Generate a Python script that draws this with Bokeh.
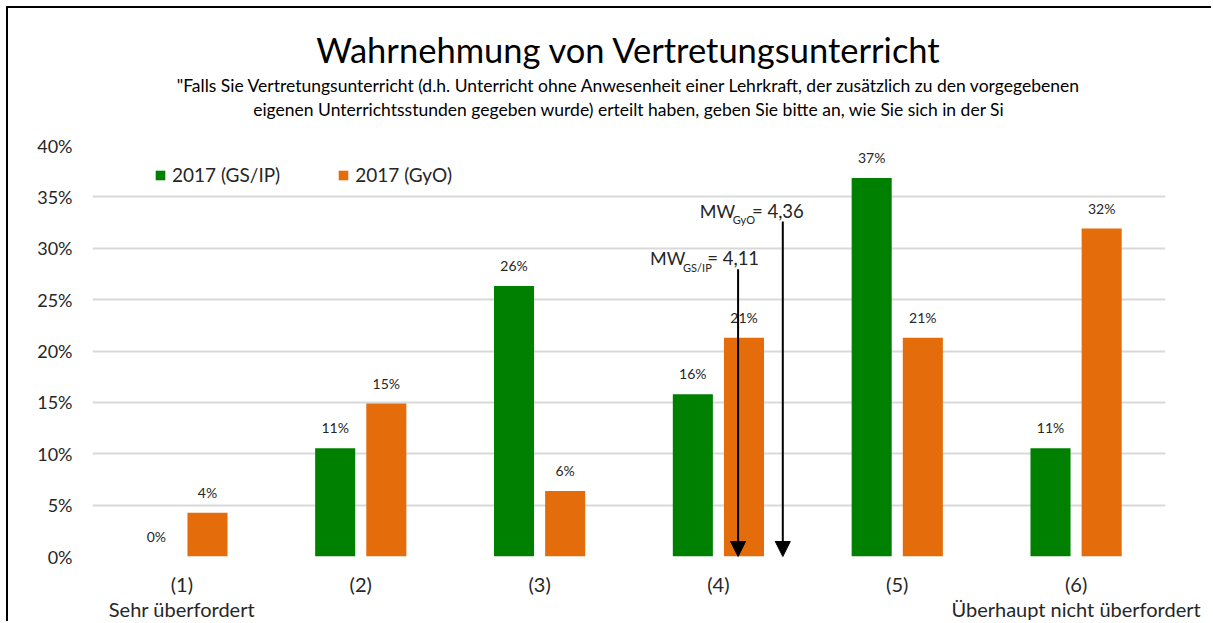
from bokeh.plotting import figure
from bokeh.models import (Range1d, LinearAxis, FixedTicker, Legend, LegendItem,
                          Arrow, NormalHead, Title, ColumnDataSource)
from bokeh.core.properties import value
from bokeh.embed import file_html
from bokeh.resources import INLINE

# ---------------- data ----------------
categories = [1, 2, 3, 4, 5, 6]
cat_labels = ["(1)", "(2)", "(3)", "(4)", "(5)", "(6)"]
cat_sublabels = ["Sehr überfordert", "", "", "", "", "Überhaupt nicht überfordert"]
series_names = ["2017 (GS/IP)", "2017 (GyO)"]
gsip = [0.0, 10.53, 26.32, 15.79, 36.84, 10.53]
gyo = [4.26, 14.89, 6.38, 21.28, 21.28, 31.91]
means = [4.11, 4.36]
mean_texts = ["= 4,11", "= 4,36"]
mean_subs = ["GS/IP", "GyO"]
arrow_tops = [27.96, 32.6]
y_ticks = [0, 5, 10, 15, 20, 25, 30, 35, 40]

title = "Wahrnehmung von Vertretungsunterricht"
subtitle1 = "\"Falls Sie Vertretungsunterricht (d.h. Unterricht ohne Anwesenheit einer Lehrkraft, der zusätzlich zu den vorgegebenen"
subtitle2 = "eigenen Unterrichtsstunden gegeben wurde) erteilt haben, geben Sie bitte an, wie Sie sich in der Si"

GREEN = "#008000"
ORANGE = "#E46C0A"
FONT = "Lato"
TXT = "#262626"

W, H = 1205, 615
p = figure(width=W, height=H, output_backend="svg", toolbar_location=None,
           x_range=Range1d(0.5, 6.5), y_range=Range1d(0, 40),
           min_border_left=84, min_border_right=48, min_border_top=137,
           min_border_bottom=20, x_axis_location=None, y_axis_location=None)
p.styles = {"margin-left": "8px", "margin-top": "8px",
            "box-shadow": "-2px -2px 0px 0px black", "overflow": "hidden"}
p.outline_line_color = None
p.border_fill_color = "white"
p.background_fill_color = "white"

# titles: p.title is outermost; added titles stack outward from the frame
p.title.text = title
p.title.align = "center"
p.title.text_font = FONT
p.title.text_font_size = "34.5px"
p.title.text_font_style = "normal"
p.title.text_color = "black"
p.title.standoff = 6
# spacer between the frame and the subtitle
p.add_layout(Title(text=" ", text_font_size="1px", standoff=22), "above")
p.add_layout(Title(text=subtitle2, align="center", text_font=FONT,
                   text_font_size="17.5px", text_font_style="normal",
                   text_color="black", standoff=1), "above")
p.add_layout(Title(text=subtitle1, align="center", text_font=FONT,
                   text_font_size="17.5px", text_font_style="normal",
                   text_color="black", standoff=1), "above")

# axes
yax = LinearAxis(ticker=FixedTicker(ticks=y_ticks),
                 major_label_overrides={t: f"{t}%" for t in y_ticks})
yax.axis_line_color = None
yax.major_tick_line_color = None
yax.minor_tick_line_color = None
yax.major_tick_out = 0
yax.major_tick_in = 0
yax.major_label_text_font = FONT
yax.major_label_text_font_size = "18px"
yax.major_label_text_color = TXT
yax.major_label_standoff = 20
p.add_layout(yax, "left")

xax = LinearAxis(ticker=FixedTicker(ticks=categories),
                 major_label_overrides={c: l for c, l in zip(categories, cat_labels)})
xax2 = LinearAxis(ticker=FixedTicker(ticks=categories),
                  major_label_overrides={c: l for c, l in zip(categories, cat_sublabels)})
for ax, st in ((xax, 15), (xax2, -2)):
    ax.axis_line_color = None
    ax.major_tick_line_color = None
    ax.minor_tick_line_color = None
    ax.major_tick_out = 0
    ax.major_tick_in = 0
    ax.major_label_text_font = FONT
    ax.major_label_text_font_size = "20px"
    ax.major_label_text_color = TXT
    ax.major_label_standoff = st
    p.add_layout(ax, "below")

p.xgrid.visible = False
p.ygrid.ticker = FixedTicker(ticks=y_ticks)
p.ygrid.grid_line_color = "#D9D9D9"
p.ygrid.grid_line_width = 2

# bars
off = 0.143
bw = 0.224
src_g = ColumnDataSource(dict(x=[c - off for c in categories], top=gsip,
                              lab=[f"{v:.0f}%" for v in gsip]))
src_o = ColumnDataSource(dict(x=[c + off for c in categories], top=gyo,
                              lab=[f"{v:.0f}%" for v in gyo]))
rg = p.vbar(x="x", top="top", width=bw, source=src_g, fill_color=GREEN,
            line_color=None)
ro = p.vbar(x="x", top="top", width=bw, source=src_o, fill_color=ORANGE,
            line_color=None)
for s in (src_g, src_o):
    p.text(x="x", y="top", text="lab", source=s, text_align="center",
           text_baseline="bottom", y_offset=-12, text_font=value(FONT),
           text_font_size="14px", text_color=TXT)

legend = Legend(items=[LegendItem(label=series_names[0], renderers=[rg]),
                       LegendItem(label=series_names[1], renderers=[ro])],
                location=(62, 370), orientation="horizontal",
                glyph_width=12, glyph_height=12, label_standoff=6, spacing=57,
                padding=0, margin=0, border_line_color=None,
                background_fill_alpha=0, label_text_font=FONT,
                label_text_font_size="19px", label_text_color=TXT)
p.add_layout(legend)

# mean arrows + labels
mw_left = {"GS/IP": -88, "GyO": -83}
for m, top, sub, txt in zip(means, arrow_tops, mean_subs, mean_texts):
    p.add_layout(Arrow(end=NormalHead(size=15, fill_color="black", line_color="black"),
                       x_start=m, y_start=top, x_end=m, y_end=0,
                       line_color="black", line_width=2))
    p.text(x=[m], y=[top], text=["MW"], x_offset=mw_left[sub],
           y_offset=-11, text_baseline="middle", text_align="left",
           text_font=value(FONT), text_font_size="18px", text_color=TXT)
    p.text(x=[m], y=[top], text=[sub], x_offset=mw_left[sub] + 33,
           y_offset=-2, text_baseline="middle", text_align="left",
           text_font=value(FONT), text_font_size="11px", text_color=TXT)
    p.text(x=[m], y=[top], text=[txt], x_offset=21,
           y_offset=-11, text_baseline="middle", text_align="right",
           text_font=value(FONT), text_font_size="18.5px", text_color=TXT)

open("out.html", "w").write(file_html(p, INLINE))
